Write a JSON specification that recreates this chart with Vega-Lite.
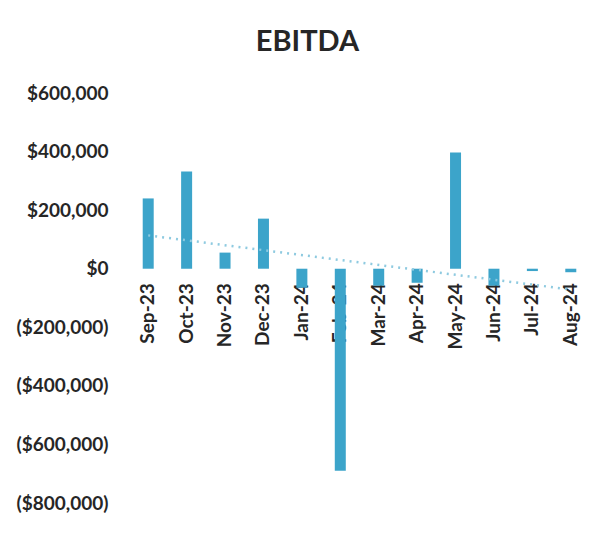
{
  "$schema": "https://vega.github.io/schema/vega-lite/v6.json",
  "width": 461,
  "height": 410,
  "autosize": "none",
  "padding": {"left": 129, "top": 93, "right": 23, "bottom": 34},
  "background": "white",
  "title": {"text": "EBITDA", "fontSize": 29, "fontWeight": "bold", "font": "Lato", "color": "#262626", "anchor": "middle", "dx": -52, "offset": 27},
  "datasets": {
    "ebitda": [
      {"month": "Sep-23", "idx": 0, "value": 240000},
      {"month": "Oct-23", "idx": 1, "value": 332000},
      {"month": "Nov-23", "idx": 2, "value": 55000},
      {"month": "Dec-23", "idx": 3, "value": 171000},
      {"month": "Jan-24", "idx": 4, "value": -65000},
      {"month": "Feb-24", "idx": 5, "value": -690000},
      {"month": "Mar-24", "idx": 6, "value": -58000},
      {"month": "Apr-24", "idx": 7, "value": -48000},
      {"month": "May-24", "idx": 8, "value": 397000},
      {"month": "Jun-24", "idx": 9, "value": -58000},
      {"month": "Jul-24", "idx": 10, "value": -8000},
      {"month": "Aug-24", "idx": 11, "value": -12000}
    ]
  },
  "data": {"name": "ebitda"},
  "config": {"view": {"stroke": null}},
  "layer": [
    {
      "mark": {"type": "bar", "width": 11, "color": "#3CA4CA"},
      "encoding": {
        "x": {"field": "month", "type": "ordinal", "sort": null,
          "scale": {"paddingInner": 0, "paddingOuter": 0},
          "axis": {"title": null, "orient": "bottom", "offset": -234.3, "labelAngle": -90, "ticks": false, "domain": false,
            "labelFont": "Lato", "labelFontSize": 19, "labelFontWeight": "bold", "labelColor": "#262626", "labelPadding": 14}},
        "y": {"field": "value", "type": "quantitative",
          "scale": {"domain": [-800000, 600000], "nice": false},
          "axis": {"title": null, "values": [-800000, -600000, -400000, -200000, 0, 200000, 400000, 600000], "grid": false, "ticks": false, "domain": false,
            "labelFont": "Lato", "labelFontSize": 19, "labelFontWeight": "bold", "labelColor": "#262626", "labelPadding": 21,
            "labelExpr": "datum.value < 0 ? '($' + format(-datum.value, ',') + ')' : '$' + format(datum.value, ',')"}}
      }
    },
    {
      "transform": [
        {"regression": "value", "on": "idx"},
        {"lookup": "idx", "from": {"data": {"name": "ebitda"}, "key": "idx", "fields": ["month"]}}
      ],
      "mark": {"type": "line", "color": "#8ECAE0", "strokeWidth": 2.5, "strokeDash": [2, 5]},
      "encoding": {
        "x": {"field": "month", "type": "ordinal", "sort": null},
        "y": {"field": "value", "type": "quantitative"}
      }
    }
  ]
}
